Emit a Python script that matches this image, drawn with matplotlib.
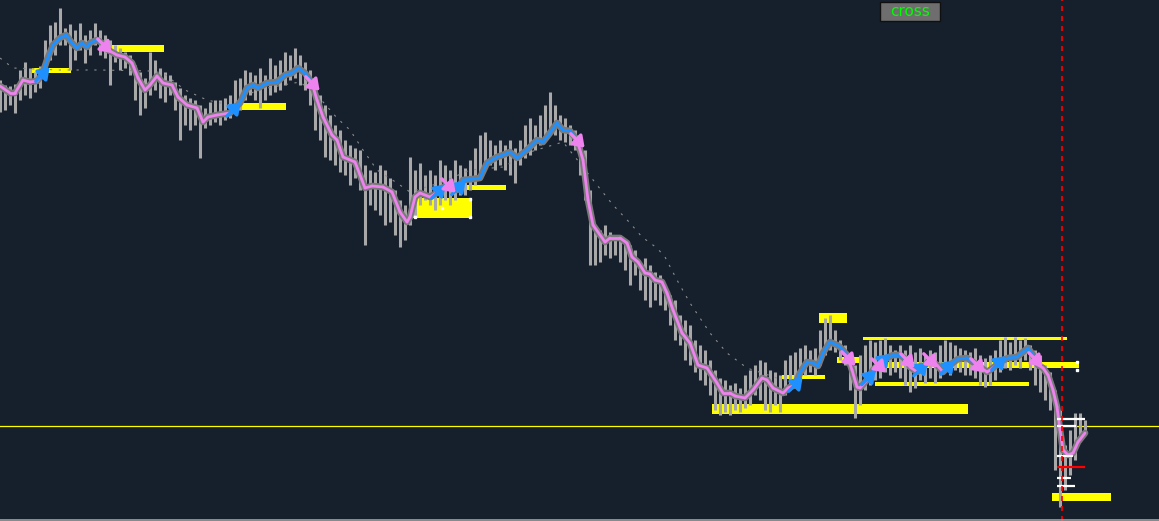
import matplotlib
matplotlib.use("Agg")
import matplotlib.pyplot as plt
import numpy as np
from matplotlib.collections import LineCollection
from matplotlib.patches import Rectangle
from matplotlib.lines import Line2D
from matplotlib.transforms import offset_copy

BG = '#161f2c'
BLUE = '#1e90ff'
PINK = '#ee82ee'
YELLOW = '#ffff00'

# price bars, sampled every 5 bars
bar_x = list(range(0, 1090, 5))
bar_hi = [420, 415, 414, 416, 430, 438, 432, 428, 434, 460,
          475, 478, 492, 472, 476, 470, 477, 465, 470, 477,
          470, 465, 460, 455, 452, 448, 445, 435, 428, 422,
          448, 440, 432, 428, 425, 418, 412, 405, 402, 400,
          395, 392, 398, 400, 400, 402, 405, 420, 422, 430,
          428, 425, 432, 425, 442, 435, 440, 448, 445, 452,
          445, 438, 430, 420, 405, 395, 385, 375, 370, 360,
          355, 352, 350, 335, 330, 328, 335, 330, 322, 310,
          300, 295, 343, 330, 337, 325, 330, 325, 340, 335,
          330, 340, 335, 332, 340, 352, 365, 368, 360, 355,
          360, 355, 360, 352, 360, 375, 382, 375, 385, 395,
          408, 395, 385, 382, 375, 370, 360, 350, 310, 275,
          270, 275, 268, 265, 265, 260, 255, 250, 238, 242,
          235, 228, 225, 215, 205, 200, 185, 180, 175, 160,
          155, 150, 140, 130, 122, 120, 115, 117, 112, 125,
          130, 135, 140, 138, 130, 128, 125, 140, 145, 148,
          152, 155, 150, 152, 170, 182, 185, 170, 160, 155,
          145, 135, 145, 155, 160, 158, 160, 162, 155, 150,
          155, 150, 155, 148, 152, 145, 150, 148, 155, 160,
          158, 155, 152, 150, 148, 152, 145, 142, 145, 150,
          160, 163, 158, 163, 160, 162, 155, 150, 145, 135,
          128, 110, 90, 55, 70, 87, 87, 80]
bar_lo = [388, 390, 395, 387, 400, 405, 402, 408, 412, 420,
          440, 445, 455, 455, 430, 440, 450, 437, 445, 455,
          445, 442, 415, 438, 430, 432, 425, 400, 385, 392,
          405, 410, 402, 398, 405, 390, 360, 375, 370, 375,
          342, 372, 375, 378, 375, 380, 382, 388, 390, 400,
          405, 400, 392, 400, 405, 408, 410, 415, 420, 422,
          415, 410, 395, 370, 360, 343, 340, 335, 328, 325,
          315, 322, 310, 255, 295, 290, 285, 275, 278, 265,
          253, 260, 275, 285, 295, 300, 295, 290, 295, 300,
          295, 300, 305, 305, 310, 315, 325, 330, 335, 330,
          335, 330, 325, 317, 335, 342, 345, 350, 355, 360,
          370, 365, 360, 358, 355, 350, 325, 300, 235, 235,
          238, 245, 242, 245, 238, 230, 215, 225, 210, 200,
          193, 200, 195, 190, 175, 160, 155, 140, 135, 128,
          120, 115, 105, 90, 85, 88, 85, 90, 88, 92,
          95, 105, 100, 90, 88, 95, 88, 105, 110, 112,
          120, 125, 128, 125, 135, 145, 150, 148, 140, 135,
          110, 82, 95, 110, 115, 120, 122, 128, 125, 128,
          122, 115, 108, 112, 120, 117, 122, 117, 122, 128,
          125, 130, 128, 125, 125, 122, 115, 113, 115, 120,
          128, 132, 130, 135, 132, 140, 130, 115, 108, 100,
          90, 30, -7, 10, 25, 40, 60, 65]

# fast moving average
ma_x = [0, 10, 15, 23, 30, 37, 42, 47, 53, 60,
        66, 72, 77, 82, 87, 90, 97, 102, 108, 117,
        125, 132, 138, 145, 150, 157, 163, 172, 178, 187,
        197, 203, 208, 217, 230, 240, 247, 253, 258, 267,
        277, 285, 292, 298, 305, 312, 317, 323, 332, 337,
        343, 355, 365, 372, 383, 392, 400, 407, 410, 415,
        420, 430, 438, 445, 448, 457, 463, 473, 480, 487,
        497, 503, 510, 517, 527, 537, 543, 550, 557, 563,
        570, 577, 583, 588, 593, 605, 610, 620, 627, 632,
        638, 645, 650, 655, 662, 667, 673, 682, 690, 698,
        707, 717, 723, 730, 735, 745, 753, 762, 767, 773,
        783, 788, 795, 800, 807, 813, 818, 823, 830, 837,
        840, 847, 852, 857, 860, 867, 873, 880, 887, 893,
        900, 907, 910, 917, 923, 930, 937, 943, 950, 958,
        967, 973, 980, 987, 993, 1000, 1008, 1017, 1023, 1028,
        1033, 1038, 1043, 1048, 1053, 1057, 1060, 1063, 1068, 1073,
        1078, 1085]
ma_p = [414, 407, 407, 420, 418, 419, 425, 440, 455, 462,
        465, 457, 452, 457, 453, 457, 460, 457, 450, 445,
        443, 437, 422, 410, 415, 424, 417, 415, 403, 395,
        392, 378, 383, 385, 387, 397, 412, 415, 412, 417,
        418, 425, 427, 432, 427, 417, 400, 383, 365, 360,
        343, 338, 312, 314, 313, 308, 288, 278, 283, 303,
        307, 303, 308, 314, 315, 310, 320, 321, 322, 337,
        343, 345, 348, 342, 350, 360, 358, 367, 377, 370,
        369, 360, 340, 300, 275, 258, 262, 262, 257, 243,
        238, 227, 226, 220, 218, 207, 190, 167, 157, 135,
        132, 117, 107, 107, 104, 102, 110, 122, 120, 112,
        107, 112, 115, 127, 138, 137, 134, 147, 158, 155,
        153, 145, 130, 113, 112, 120, 130, 137, 142, 145,
        145, 140, 133, 128, 133, 140, 135, 128, 135, 141,
        142, 138, 133, 128, 132, 138, 142, 143, 148, 152,
        145, 135, 132, 125, 110, 93, 70, 50, 45, 47,
        58, 67]

# slow moving average
slow_x = [0, 13, 60, 100, 150, 163, 185, 207, 230, 257, 283, 300, 317, 337,
          350, 363, 377, 397, 410, 423, 440, 470, 503, 530, 543, 563, 583,
          597, 613, 630, 642, 657, 665, 677, 690, 710, 727, 747, 777, 793]
slow_p = [442, 432, 430, 430, 429, 427, 410, 400, 395, 410, 415, 418, 405,
          382, 370, 350, 330, 317, 308, 312, 317, 330, 333, 348, 352, 358,
          333, 315, 295, 277, 263, 252, 243, 220, 197, 167, 147, 132, 122, 118]

# trend signals (bar index)
sig_up = [42, 233, 438, 458, 795, 868, 882, 920, 947, 998]
sig_dn = [104, 312, 448, 577, 848, 878, 907, 930, 977, 1035]

# supply / demand zones
z_x0 = [32, 106, 240, 413, 455, 819, 837, 782, 712, 863, 875, 875, 1052]
z_x1 = [71, 164, 286, 472, 506, 847, 859, 825, 968, 1067, 1079, 1029, 1111]
z_top = [432, 455, 397, 302, 315, 187, 143, 125, 96, 163, 138, 118, 7]
z_bot = [427, 448, 390, 282, 310, 177, 137, 121, 86, 160, 132, 114, -1]

level_price = 74
cursor_bar = 1062
lvl_x0 = 1057
lvl_x1 = [1085, 1076, 1073, 1085, 1071, 1075]
lvl_p = [81, 74, 44, 33, 22, 14]
lvl_c = ['white', 'white', 'white', 'red', 'white', 'white']

fig = plt.figure(figsize=(11.59, 5.21), dpi=100, facecolor=BG)
ax = fig.add_axes([0, 0, 1, 1])
ax.set_facecolor(BG)
ax.set_xlim(0, 1159)
ax.set_ylim(-21, 500)
ax.axis('off')

for x0, x1, t, b in zip(z_x0, z_x1, z_top, z_bot):
    ax.add_patch(Rectangle((x0, b), x1 - x0, t - b, fc=YELLOW, ec='none', zorder=1))
ax.plot([415, 442, 470, 470], [283, 292, 301, 283], 's', color='white', ms=2, zorder=1.5)
ax.plot([1077, 1077], [138, 130], 's', color='white', ms=2, zorder=1.5)

ax.axhline(level_price, color=YELLOW, lw=0.9, zorder=1)

ax.vlines(bar_x, bar_lo, bar_hi, color='#a8a8a8', lw=2.2, zorder=2)
ax.plot(slow_x, slow_p, color='#8c8c8c', lw=0.8, ls=(0, (2, 6)), zorder=2.5)

# trend coloured MA
xs = np.array(sorted(set(ma_x) | set(sig_up) | set(sig_dn)), dtype=float)
ys = np.interp(xs, ma_x, ma_p)
events = sorted([(b, 1) for b in sig_up] + [(b, -1) for b in sig_dn])


def trend(x):
    s = -1
    for b, d in events:
        if x >= b:
            s = d
    return s


ax.plot(ma_x, ma_p, color='#7a7a7a', lw=4.8, solid_capstyle='round', zorder=3)
segs = [[(xs[i], ys[i]), (xs[i + 1], ys[i + 1])] for i in range(len(xs) - 1)]
cols = [BLUE if trend((xs[i] + xs[i + 1]) / 2) > 0 else PINK for i in range(len(xs) - 1)]
ax.add_collection(LineCollection(segs, colors=cols, linewidths=2.0, capstyle='round', zorder=4))


def arrow(x, up):
    p = np.interp(x, ma_x, ma_p)
    sgn = 1 if up else -1
    tip = offset_copy(ax.transData, fig=fig, x=5.5, y=5.5 * sgn, units='points')
    tail = offset_copy(ax.transData, fig=fig, x=-4.5, y=-4.5 * sgn, units='points')
    ax.annotate('', xy=(x, p), xycoords=tip, xytext=(x, p), textcoords=tail,
                arrowprops=dict(arrowstyle='-|>,head_length=0.45,head_width=0.32',
                                color=BLUE if up else PINK, lw=2.4,
                                mutation_scale=14, shrinkA=0, shrinkB=0),
                zorder=5)


for b in sig_up:
    arrow(b, True)
for b in sig_dn:
    arrow(b, False)

for x1, p, c in zip(lvl_x1, lvl_p, lvl_c):
    ax.hlines(p, lvl_x0, x1, color=c, lw=1.6, zorder=5)

ax.axvline(cursor_bar, color='red', lw=1.2, ls=(0, (3, 3)), zorder=6)

fig.add_artist(Line2D([0, 1], [0.002, 0.002], color='#a0a0a0', lw=1.2, transform=fig.transFigure))
fig.add_artist(Rectangle((880 / 1159, 1 - 21 / 521), 60 / 1159, 19 / 521, transform=fig.transFigure,
                         fc='#6e6e6e', ec='#101010', lw=1))
fig.text(910 / 1159, 1 - 12 / 521, 'cross', color='#00ff00', fontsize=11, ha='center', va='center')

fig.savefig('out.png', dpi=100, facecolor=BG)
